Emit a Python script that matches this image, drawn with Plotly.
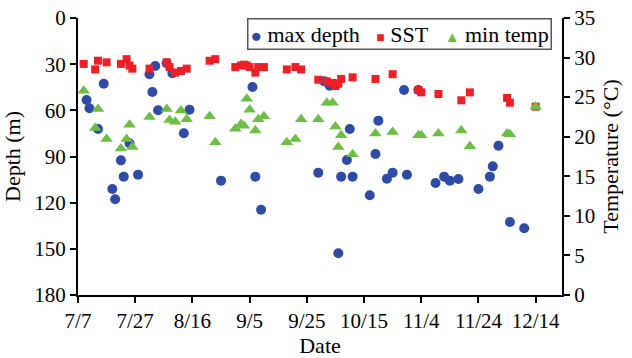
import plotly.graph_objects as go
from datetime import date

YEAR = 2015

# Dates shared by SST and min temp (month/day)
temp_dates = ["7/9", "7/13", "7/14", "7/17", "7/22", "7/24", "7/25", "7/26", "8/1", "8/7",
              "8/8", "8/10", "8/12", "8/14", "8/22", "8/24", "8/31", "9/2", "9/3", "9/4",
              "9/5", "9/7", "9/8", "9/10", "9/18", "9/21", "9/23", "9/29", "10/2", "10/4",
              "10/5", "10/6", "10/7", "10/11", "10/19", "10/25", "11/3", "11/4", "11/10", "11/18",
              "11/21", "12/4", "12/5", "12/14"]
sst = [29.2, 28.5, 29.6, 29.4, 29.2, 29.8, 29.0, 28.6, 28.6, 29.4,
       28.8, 28.1, 28.3, 28.6, 29.6, 29.8, 28.8, 29.0, 29.1, 29.0,
       28.8, 28.1, 28.8, 28.8, 28.5, 28.8, 28.5, 27.2, 27.0, 26.8,
       26.4, 26.7, 27.3, 27.5, 27.3, 27.9, 25.9, 25.6, 25.4, 24.6,
       25.6, 24.9, 24.3, 23.8]
min_temp = [25.8, 21.1, 23.5, 19.7, 18.5, 19.7, 21.5, 18.7, 22.5, 23.5,
            22.1, 21.9, 23.3, 22.2, 22.6, 19.3, 21.0, 21.6, 21.4, 24.8,
            23.4, 20.8, 22.2, 22.6, 19.3, 19.7, 22.2, 22.2, 24.3, 24.3,
            21.3, 18.7, 20.2, 17.8, 20.4, 20.6, 20.2, 20.2, 20.4, 20.8,
            18.8, 20.4, 20.3, 23.8]

depth_dates = ["7/10", "7/11", "7/14", "7/16", "7/19", "7/20", "7/22", "7/23", "7/25", "7/28",
               "8/1", "8/2", "8/3", "8/4", "8/7", "8/9", "8/13", "8/15", "8/26", "9/6",
               "9/7", "9/9", "9/29", "10/1", "10/3", "10/6", "10/7", "10/9", "10/10", "10/11",
               "10/17", "10/19", "10/20", "10/23", "10/25", "10/29", "10/30", "11/3", "11/9", "11/12",
               "11/14", "11/17", "11/24", "11/28", "11/29", "12/1", "12/5", "12/10"]
max_depth = [53.3, 58.7, 72.1, 42.7, 111.1, 117.8, 92.5, 103.1, 81.4, 101.8,
             36.6, 48.1, 31.2, 60.0, 29.4, 35.9, 74.9, 59.6, 105.7, 44.8,
             103.1, 124.6, 100.5, 41.1, 44.0, 152.9, 103.1, 92.3, 72.1, 103.1,
             115.2, 88.4, 66.7, 104.4, 100.5, 46.8, 101.8, 46.8, 107.2, 103.1,
             105.7, 104.6, 111.1, 103.1, 96.4, 83.0, 132.6, 136.6]

tick_labels = ["7/7", "7/27", "8/16", "9/5", "9/25", "10/15", "11/4", "11/24", "12/14"]
depth_ticks = [0, 30, 60, 90, 120, 150, 180]
temp_ticks = [0, 5, 10, 15, 20, 25, 30, 35]

series_names = ["max depth", "SST", "min temp"]
colors = ["#2E4CA6", "#EE1F25", "#6DBE45"]


def to_date(s):
    m, d = s.split("/")
    return date(YEAR, int(m), int(d))


FONT = "Times New Roman, Liberation Serif, serif"
fig = go.Figure()
fig.add_trace(go.Scatter(x=[to_date(s) for s in depth_dates], y=max_depth, mode="markers",
                         name=series_names[0], yaxis="y",
                         marker=dict(symbol="circle", size=10, color=colors[0])))
fig.add_trace(go.Scatter(x=[to_date(s) for s in temp_dates], y=sst, mode="markers",
                         name=series_names[1], yaxis="y2",
                         marker=dict(symbol="square", size=8, color=colors[1])))
fig.add_trace(go.Scatter(x=[to_date(s) for s in temp_dates], y=min_temp, mode="markers",
                         name=series_names[2], yaxis="y2",
                         marker=dict(symbol="triangle-up", size=11, color=colors[2])))

axis_common = dict(showgrid=False, zeroline=False, showline=True, linecolor="black",
                   linewidth=2, ticks="outside", ticklen=6, tickwidth=2, tickcolor="black",
                   automargin=False,
                   tickfont=dict(family=FONT, size=21, color="black"))

# compact legend drawn as a bordered text box
legend_text = (
    f'<span style="color:{colors[0]};font-size:19px">●</span> {series_names[0]}&nbsp;&nbsp;&nbsp;'
    f'<span style="color:{colors[1]};font-size:14px">■</span> {series_names[1]}&nbsp;&nbsp;&nbsp;'
    f'<span style="color:{colors[2]};font-size:15px">▲</span> {series_names[2]}'
)

fig.update_layout(
    width=632, height=358,
    margin=dict(l=78, r=70, t=18, b=63),
    paper_bgcolor="white", plot_bgcolor="white",
    font=dict(family=FONT, size=21, color="black"),
    showlegend=False,
    xaxis=dict(**axis_common, type="date",
               range=[date(YEAR, 7, 7).isoformat(), f"{YEAR}-12-23 05:00"],
               tickvals=[to_date(s) for s in tick_labels], ticktext=tick_labels,
               title=dict(text="Date", font=dict(family=FONT, size=22), standoff=6)),
    yaxis=dict(**axis_common, range=[180, 0], tickvals=depth_ticks,
               title=dict(text="Depth (m)", font=dict(family=FONT, size=22), standoff=8)),
    yaxis2=dict(**axis_common, overlaying="y", side="right", range=[0, 35],
                tickvals=temp_ticks,
                title=dict(text="Temperature (°C)", font=dict(family=FONT, size=22), standoff=8)),
    annotations=[dict(
        xref="paper", yref="paper", x=0.98, y=1.0, xanchor="right", yanchor="top",
        text=legend_text, showarrow=False, align="left",
        font=dict(family=FONT, size=22, color="black"),
        bgcolor="white", bordercolor="#555555", borderwidth=1.5, borderpad=2,
    )],
)

fig.write_html("out.html", config={"displayModeBar": False},
               post_script="document.body.style.margin='0px';document.body.style.padding='0px';")
